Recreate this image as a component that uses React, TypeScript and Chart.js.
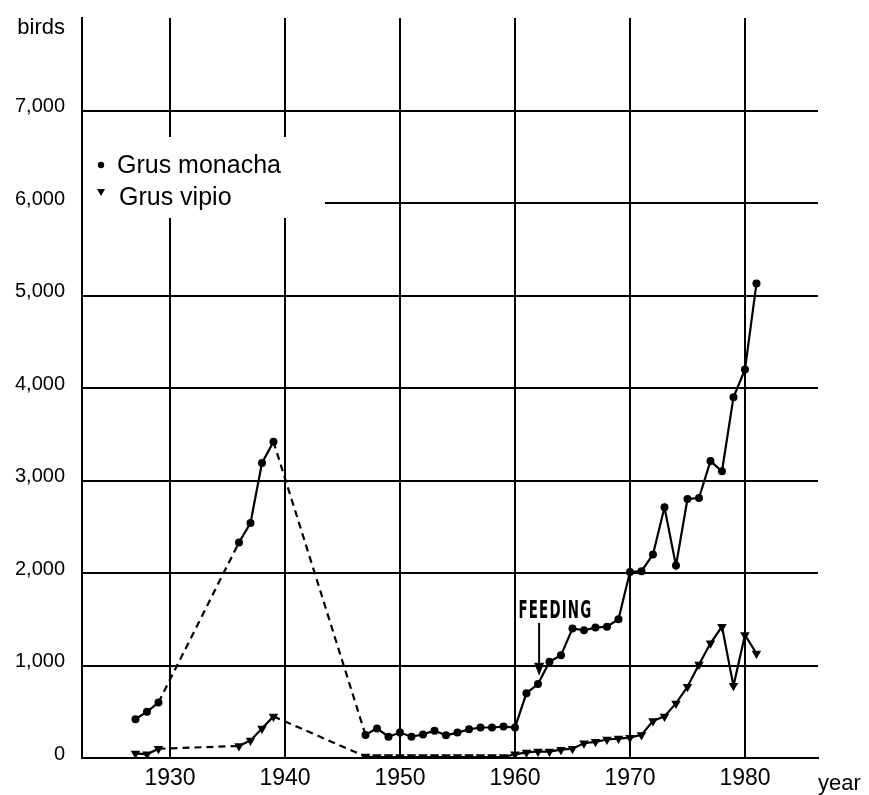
import React, { useEffect, useRef } from "react";
import { Chart, registerables } from "chart.js";

Chart.register(...registerables);

// ---- data ----
const monachaYears = [1927, 1928, 1929, 1936, 1937, 1938, 1939, 1947, 1948, 1949, 1950, 1951, 1952, 1953, 1954, 1955, 1956, 1957, 1958, 1959, 1960, 1961, 1962, 1963, 1964, 1965, 1966, 1967, 1968, 1969, 1970, 1971, 1972, 1973, 1974, 1975, 1976, 1977, 1978, 1979, 1980, 1981];
const monachaBirds = [420, 500, 600, 2330, 2540, 3190, 3420, 250, 320, 230, 275, 230, 255, 295, 245, 275, 310, 330, 330, 340, 330, 700, 800, 1040, 1110, 1400, 1380, 1410, 1420, 1500, 2010, 2020, 2200, 2710, 2080, 2800, 2810, 3210, 3100, 3900, 4200, 5130];

const vipioYears = [1927, 1928, 1929, 1936, 1937, 1938, 1939, 1947, 1948, 1949, 1950, 1951, 1952, 1953, 1954, 1955, 1956, 1957, 1958, 1959, 1960, 1961, 1962, 1963, 1964, 1965, 1966, 1967, 1968, 1969, 1970, 1971, 1972, 1973, 1974, 1975, 1976, 1977, 1978, 1979, 1980, 1981];
const vipioBirds = [50, 40, 100, 130, 190, 320, 450, 15, 10, 10, 10, 10, 10, 10, 10, 10, 10, 10, 10, 10, 40, 60, 70, 70, 90, 100, 160, 175, 200, 210, 220, 250, 400, 450, 590, 770, 1010, 1240, 1420, 780, 1330, 1130];

const xTickYears = [1930, 1940, 1950, 1960, 1970, 1980];
const yTickValues = [0, 1000, 2000, 3000, 4000, 5000, 6000, 7000];

const seriesLabels = ["Grus monacha", "Grus vipio"];
const yAxisLabel = "birds";
const xAxisLabel = "year";

const feedingLabel = "FEEDING";
const feedingTextYear = 1960.3;
const feedingTextBirds = 1510;
const feedingArrowYear = 1962.1;
const feedingArrowTopBirds = 1460;
const feedingArrowTipBirds = 890;

const FONT = "'Liberation Sans', Arial, Helvetica, sans-serif";

const toPoints = (xs: number[], ys: number[]) => xs.map((x, i) => ({ x, y: ys[i] }));
const gapDash = (ctx: any) => (ctx.p1.parsed.x - ctx.p0.parsed.x > 1.5 ? [7, 5] : undefined);

const annotationPlugin = {
  id: "annotations",
  beforeDatasetsDraw(chart: any) {
    const { ctx, chartArea } = chart;
    ctx.save();
    ctx.fillStyle = "#fff";
    // white legend backing (breaks grid lines behind the legend)
    ctx.fillRect(chartArea.left, 137, 325 - chartArea.left, 81);
    // keep the left axis line continuous
    ctx.strokeStyle = "#000";
    ctx.lineWidth = 2;
    ctx.beginPath();
    ctx.moveTo(chartArea.left, 135);
    ctx.lineTo(chartArea.left, 220);
    ctx.stroke();
    ctx.restore();
  },
  afterDraw(chart: any) {
    const { ctx, chartArea, scales } = chart;
    const xs = scales.x;
    const ys = scales.y;
    ctx.save();
    ctx.fillStyle = "#000";
    ctx.strokeStyle = "#000";

    // axis words
    ctx.font = `22px ${FONT}`;
    ctx.textAlign = "right";
    ctx.textBaseline = "alphabetic";
    ctx.fillText(yAxisLabel, chartArea.left - 17, 34);
    ctx.textAlign = "left";
    ctx.fillText(xAxisLabel, chartArea.right, 790);

    // legend
    const lx = chartArea.left + 19;
    ctx.beginPath();
    ctx.arc(lx, 165, 3.2, 0, Math.PI * 2);
    ctx.fill();
    ctx.beginPath();
    ctx.moveTo(lx - 4, 189);
    ctx.lineTo(lx + 4, 189);
    ctx.lineTo(lx, 196);
    ctx.closePath();
    ctx.fill();
    ctx.font = `25px ${FONT}`;
    ctx.fillText(seriesLabels[0], lx + 16, 173);
    ctx.fillText(seriesLabels[1], lx + 18, 205);

    // FEEDING annotation
    const tx = xs.getPixelForValue(feedingTextYear);
    const ty = ys.getPixelForValue(feedingTextBirds);
    ctx.font = `bold 25px 'DejaVu Sans Condensed', 'Liberation Sans Narrow', 'DejaVu Sans', sans-serif`;
    try {
      (ctx as any).letterSpacing = "2px";
    } catch (e) {}
    const w = ctx.measureText(feedingLabel).width;
    const sx = 74 / w;
    ctx.save();
    ctx.translate(tx, ty);
    ctx.scale(sx, 1);
    ctx.fillText(feedingLabel, 0, 0);
    ctx.restore();
    try {
      (ctx as any).letterSpacing = "0px";
    } catch (e) {}

    const ax = xs.getPixelForValue(feedingArrowYear);
    const aTop = ys.getPixelForValue(feedingArrowTopBirds);
    const aTip = ys.getPixelForValue(feedingArrowTipBirds);
    ctx.lineWidth = 2;
    ctx.beginPath();
    ctx.moveTo(ax, aTop);
    ctx.lineTo(ax, aTip - 10);
    ctx.stroke();
    ctx.beginPath();
    ctx.moveTo(ax - 5, aTip - 13);
    ctx.lineTo(ax + 5, aTip - 13);
    ctx.lineTo(ax, aTip);
    ctx.closePath();
    ctx.fill();

    ctx.restore();
  },
};

export default function App() {
  const canvasRef = useRef<HTMLCanvasElement | null>(null);

  useEffect(() => {
    if (!canvasRef.current) return;
    const chart = new Chart(canvasRef.current, {
      type: "line",
      data: {
        datasets: [
          {
            label: seriesLabels[0],
            data: toPoints(monachaYears, monachaBirds),
            borderColor: "#000",
            backgroundColor: "#000",
            borderWidth: 2.2,
            pointStyle: "circle",
            pointRadius: 4,
            pointBackgroundColor: "#000",
            pointBorderColor: "#000",
            pointBorderWidth: 0,
            tension: 0,
            segment: { borderDash: gapDash },
          },
          {
            label: seriesLabels[1],
            data: toPoints(vipioYears, vipioBirds),
            borderColor: "#000",
            backgroundColor: "#000",
            borderWidth: 2.2,
            pointStyle: "triangle",
            pointRotation: 180,
            pointRadius: 5.5,
            pointBackgroundColor: "#000",
            pointBorderColor: "#000",
            pointBorderWidth: 0,
            tension: 0,
            segment: { borderDash: gapDash },
          },
        ],
      } as any,
      options: {
        animation: false,
        responsive: true,
        maintainAspectRatio: false,
        events: [],
        layout: { padding: { top: 18, right: 51, left: 0, bottom: 0 } },
        plugins: { legend: { display: false }, tooltip: { enabled: false } },
        scales: {
          x: {
            type: "linear",
            min: 1922.35,
            max: 1986.35,
            afterBuildTicks: (s: any) => {
              s.ticks = xTickYears.map((v) => ({ value: v }));
            },
            afterFit: (s: any) => {
              s.height = 37;
              s.paddingLeft = 0;
              s.paddingRight = 0;
            },
            ticks: {
              callback: (v: any) => String(v),
              font: { family: FONT, size: 23 },
              color: "#000",
              padding: 7,
              maxRotation: 0,
              autoSkip: false,
            },
            grid: { color: "#000", lineWidth: 2, drawTicks: false },
            border: { display: true, color: "#000", width: 2 },
          },
          y: {
            type: "linear",
            min: 0,
            max: 8000,
            afterBuildTicks: (s: any) => {
              s.ticks = yTickValues.map((v) => ({ value: v }));
            },
            afterFit: (s: any) => {
              s.width = 82;
              s.paddingTop = 0;
              s.paddingBottom = 0;
            },
            ticks: {
              callback: (v: any) => [Number(v).toLocaleString("en-US"), ""],
              font: { family: FONT, size: 20, lineHeight: 0.4 },
              color: "#000",
              padding: 17,
              autoSkip: false,
            },
            grid: { color: "#000", lineWidth: 2, drawTicks: false },
            border: { display: true, color: "#000", width: 2 },
          },
        },
      } as any,
      plugins: [annotationPlugin],
    });
    return () => chart.destroy();
  }, []);

  return (
    <div style={{ position: "fixed", left: 0, top: 0, width: 869, height: 795, background: "#fff" }}>
      <canvas ref={canvasRef} />
    </div>
  );
}
